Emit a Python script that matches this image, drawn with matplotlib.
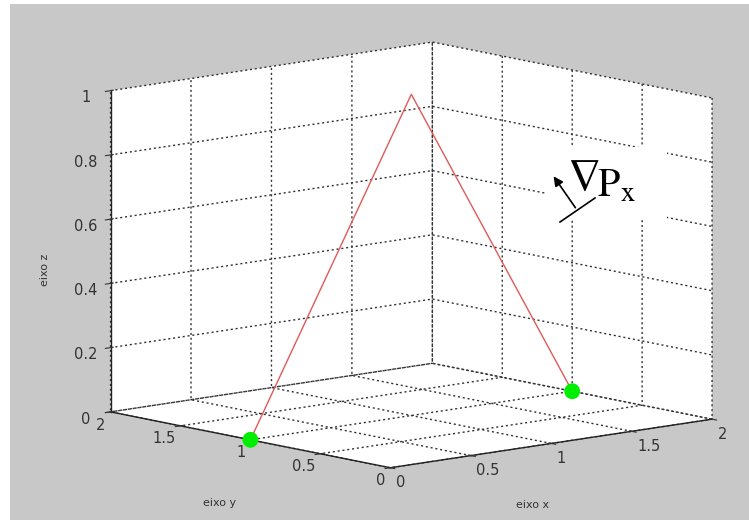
import numpy as np
import matplotlib
matplotlib.use('Agg')
import matplotlib.pyplot as plt
from matplotlib.patches import Rectangle, FancyArrowPatch
from matplotlib.lines import Line2D

# --------------------------
# Data
# --------------------------
line_x = [0, 1, 2]
line_y = [1, 1, 1]
line_z = [0, 1, 0]

point_x = [0, 2]
point_y = [1, 1]
point_z = [0, 0]

xy_ticks = [0, 0.5, 1, 1.5, 2]
xy_labels = ['0', '0.5', '1', '1.5', '2']
z_ticks = [0, 0.2, 0.4, 0.6, 0.8, 1]
z_labels = ['0', '0.2', '0.4', '0.6', '0.8', '1']

# --------------------------
# Style (MATLAB-like)
# --------------------------
plt.rcParams['font.family'] = 'DejaVu Sans'
plt.rcParams['grid.linestyle'] = (0, (1.5, 2.0))
plt.rcParams['grid.color'] = '#333333'
plt.rcParams['grid.linewidth'] = 1.0
plt.rcParams['mathtext.fontset'] = 'stix'

W, H = 749, 524
fig = plt.figure(figsize=(W / 100, H / 100), dpi=100, facecolor='white')

# gray window background
fig.patches.append(Rectangle((10 / W, 1 - 520 / H), (W - 10) / W, 516 / H,
                             transform=fig.transFigure, facecolor='#c8c8c8',
                             edgecolor='none', zorder=-5))

ax = fig.add_axes([0.0497, 0.0, 0.98, 1.0], projection='3d', proj_type='ortho')
ax.set_facecolor('none')
ax.view_init(elev=10, azim=-131)
ax.set_box_aspect((1, 1, 0.765), zoom=1.27)

for axis in (ax.xaxis, ax.yaxis, ax.zaxis):
    axis.set_pane_color((1, 1, 1, 1))
    axis.pane.set_edgecolor('none')
    axis.line.set_color('#222222')
    axis.line.set_linewidth(1.0)

ax.plot(line_x, line_y, line_z, color='#e05a5a', linewidth=1.0)
ax.scatter(point_x, point_y, point_z, color='#00ee00', s=130, depthshade=False,
           edgecolors='none')

ax.set_xlim(0, 2)
ax.set_ylim(0, 2)
ax.set_zlim(0, 1)
ax.set_xticks(xy_ticks)
ax.set_xticklabels(xy_labels)
ax.set_yticks(xy_ticks)
ax.set_yticklabels(xy_labels)
ax.set_zticks(z_ticks)
ax.set_zticklabels(z_labels)
ax.tick_params(labelsize=10.5, colors='#333333', pad=0)
ax.tick_params(axis='x', pad=-4)
ax.tick_params(axis='y', pad=-5)
for t in ax.xaxis.get_major_ticks():
    t.label1.set_horizontalalignment('left')
for t in ax.yaxis.get_major_ticks():
    t.label1.set_horizontalalignment('right')

# axis titles placed like the MATLAB figure
fig.text(533 / W, 1 - 505 / H, 'eixo x', fontsize=8, color='#333333',
         ha='center', va='center')
fig.text(220 / W, 1 - 503 / H, 'eixo y', fontsize=8, color='#333333',
         ha='center', va='center')
fig.text(45 / W, 1 - 270 / H, 'eixo z', fontsize=8, color='#333333',
         ha='center', va='center', rotation=90)

# gradient annotation box
fig.patches.append(Rectangle((545 / W, 1 - 220 / H), 122 / W, 73 / H,
                             transform=fig.transFigure, facecolor='white',
                             edgecolor='none', zorder=5))
fig.text(567 / W, 1 - 156 / H, r'$\nabla$', fontsize=33, va='top',
         color='black', zorder=6)
fig.text(597 / W, 1 - 197 / H, r'$\mathrm{P}_{\mathrm{x}}$', fontsize=29,
         va='baseline', color='black', zorder=6)
fig.lines.append(Line2D([560 / W, 595 / W], [1 - 222 / H, 1 - 198 / H],
                        transform=fig.transFigure, color='black', linewidth=1.2,
                        zorder=6))
fig.patches.append(FancyArrowPatch((577 / W, 1 - 210 / H), (552 / W, 1 - 174 / H),
                                   transform=fig.transFigure, arrowstyle='-|>',
                                   mutation_scale=14, color='black', linewidth=1.2,
                                   zorder=6))

fig.savefig('out.png', dpi=100, facecolor='white')
